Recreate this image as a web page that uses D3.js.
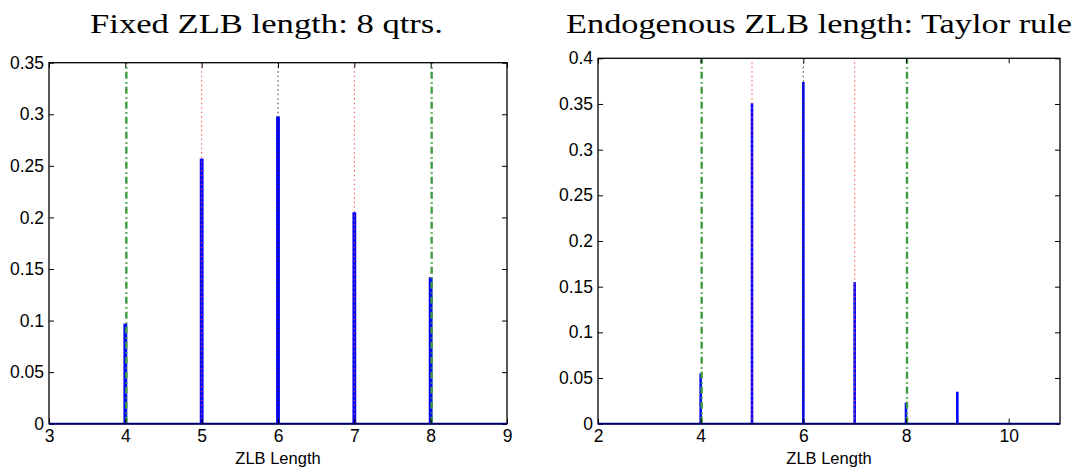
<!DOCTYPE html>
<html>
<head>
<meta charset="utf-8">
<script src="https://cdn.jsdelivr.net/npm/d3@7"></script>
<style>
  html, body { margin: 0; padding: 0; background: #fff; }
  svg { display: block; }
  .tick text { font-family: "Liberation Sans", Arial, sans-serif; }
</style>
</head>
<body>
<svg id="chart" width="1075" height="470"></svg>
<script>
// Distribution of ZLB spell lengths (quarters) under two scenarios
const fixedLengths = [4, 5, 6, 7, 8];
const fixedShares  = [0.097, 0.257, 0.298, 0.205, 0.142];

const taylorLengths = [4, 5, 6, 7, 8, 9];
const taylorShares  = [0.055, 0.351, 0.374, 0.155, 0.023, 0.035];

// Percentile markers: 5th, 25th, median, 75th, 95th
const percentileNames = ["p05", "p25", "p50", "p75", "p95"];
const fixedPercentiles  = [4, 5, 6, 7, 8];
const taylorPercentiles = [4, 5, 6, 7, 8];

const titles = ["Fixed ZLB length: 8 qtrs.", "Endogenous ZLB length: Taylor rule"];
const xLabel = "ZLB Length";

const fixedXTicks  = [3, 4, 5, 6, 7, 8, 9];
const taylorXTicks = [2, 4, 6, 8, 10];
const fixedYTicks  = [0, 0.05, 0.1, 0.15, 0.2, 0.25, 0.3, 0.35];
const taylorYTicks = [0, 0.05, 0.1, 0.15, 0.2, 0.25, 0.3, 0.35, 0.4];

const markerStyle = {
  p05: { color: "#3f9b3f", width: 2.4, dash: "7,3,1.5,3.5" },
  p25: { color: "#ff4a4a", width: 1, dash: "1.5,3" },
  p50: { color: "#333333", width: 1, dash: "1.5,3" },
  p75: { color: "#ff4a4a", width: 1, dash: "1.5,3" },
  p95: { color: "#3f9b3f", width: 2.4, dash: "7,3,1.5,3.5" }
};

const svg = d3.select("#chart");
const fmt = d => String(+d.toFixed(2));
const tickFont = 17.5;

function panel(cfg) {
  const x = d3.scaleLinear().domain(cfg.xDomain).range([cfg.left, cfg.right]);
  const y = d3.scaleLinear().domain(cfg.yDomain).range([cfg.bottom, cfg.top]);
  const g = svg.append("g");
  const barW = x(0.05) - x(0);

  // bars
  g.selectAll("rect.bar")
    .data(cfg.lengths.map((l, i) => ({ l, v: cfg.shares[i] })))
    .join("rect")
    .attr("class", "bar")
    .attr("x", d => x(d.l) - barW / 2)
    .attr("width", barW)
    .attr("y", d => y(d.v))
    .attr("height", d => y(0) - y(d.v))
    .attr("fill", "#0000ff");

  // percentile lines
  g.selectAll("line.pct")
    .data(cfg.percentiles.map((p, i) => ({ p, name: percentileNames[i] })))
    .join("line")
    .attr("class", "pct")
    .attr("x1", d => x(d.p) + (markerStyle[d.name].width > 2 ? 1 : 0))
    .attr("x2", d => x(d.p) + (markerStyle[d.name].width > 2 ? 1 : 0))
    .attr("y1", y(cfg.yDomain[0]))
    .attr("y2", y(cfg.yDomain[1]))
    .attr("stroke", d => markerStyle[d.name].color)
    .attr("stroke-width", d => markerStyle[d.name].width)
    .attr("stroke-dasharray", d => markerStyle[d.name].dash);

  // axes with inward ticks on all four sides
  const tl = 5;
  const axB = d3.axisBottom(x).tickValues(cfg.xTicks).tickSizeInner(-tl).tickSizeOuter(0).tickPadding(6).tickFormat(d3.format("d"));
  const axT = d3.axisTop(x).tickValues(cfg.xTicks).tickSizeInner(-tl).tickSizeOuter(0).tickFormat("");
  const axL = d3.axisLeft(y).tickValues(cfg.yTicks).tickSizeInner(-tl).tickSizeOuter(0).tickPadding(5).tickFormat(fmt);
  const axR = d3.axisRight(y).tickValues(cfg.yTicks).tickSizeInner(-tl).tickSizeOuter(0).tickFormat("");

  const style = (sel) => {
    sel.select(".domain").remove();
    sel.selectAll(".tick line").attr("stroke", "#000").attr("stroke-width", 1);
    sel.selectAll(".tick text").attr("font-size", tickFont).attr("fill", "#000");
  };
  g.append("g").attr("transform", `translate(0,${cfg.bottom})`).call(axB).call(style);
  g.append("g").attr("transform", `translate(0,${cfg.top})`).call(axT).call(style);
  g.append("g").attr("transform", `translate(${cfg.left},0)`).call(axL).call(style);
  g.append("g").attr("transform", `translate(${cfg.right},0)`).call(axR).call(style);

  // frame
  g.append("rect")
    .attr("x", cfg.left).attr("y", cfg.top)
    .attr("width", cfg.right - cfg.left).attr("height", cfg.bottom - cfg.top)
    .attr("fill", "none").attr("stroke", "#000").attr("stroke-width", 1.3);
  g.append("line")
    .attr("x1", cfg.left).attr("x2", cfg.right)
    .attr("y1", cfg.bottom).attr("y2", cfg.bottom)
    .attr("stroke", "#00006e").attr("stroke-width", 2);

  // title
  g.append("text")
    .attr("x", cfg.titleX).attr("y", 33)
    .attr("text-anchor", "middle")
    .attr("font-family", "'Liberation Serif', 'Times New Roman', serif")
    .attr("font-size", 28)
    .attr("textLength", cfg.titleW)
    .attr("lengthAdjust", "spacingAndGlyphs")
    .text(cfg.title);

  // x label
  g.append("text")
    .attr("x", (cfg.left + cfg.right) / 2).attr("y", 464)
    .attr("text-anchor", "middle")
    .attr("font-family", "'Liberation Sans', Arial, sans-serif")
    .attr("font-size", 16.5)
    .text(xLabel);
}

panel({
  left: 49, right: 507, top: 62.7, bottom: 423.7,
  xDomain: [3, 9], yDomain: [0, 0.35],
  xTicks: fixedXTicks, yTicks: fixedYTicks,
  lengths: fixedLengths, shares: fixedShares, percentiles: fixedPercentiles,
  title: titles[0], titleX: 266.5, titleW: 353
});

panel({
  left: 598, right: 1060, top: 58.3, bottom: 423.7,
  xDomain: [2, 11], yDomain: [0, 0.4],
  xTicks: taylorXTicks, yTicks: taylorYTicks,
  lengths: taylorLengths, shares: taylorShares, percentiles: taylorPercentiles,
  title: titles[1], titleX: 819, titleW: 506
});
</script>
</body>
</html>
